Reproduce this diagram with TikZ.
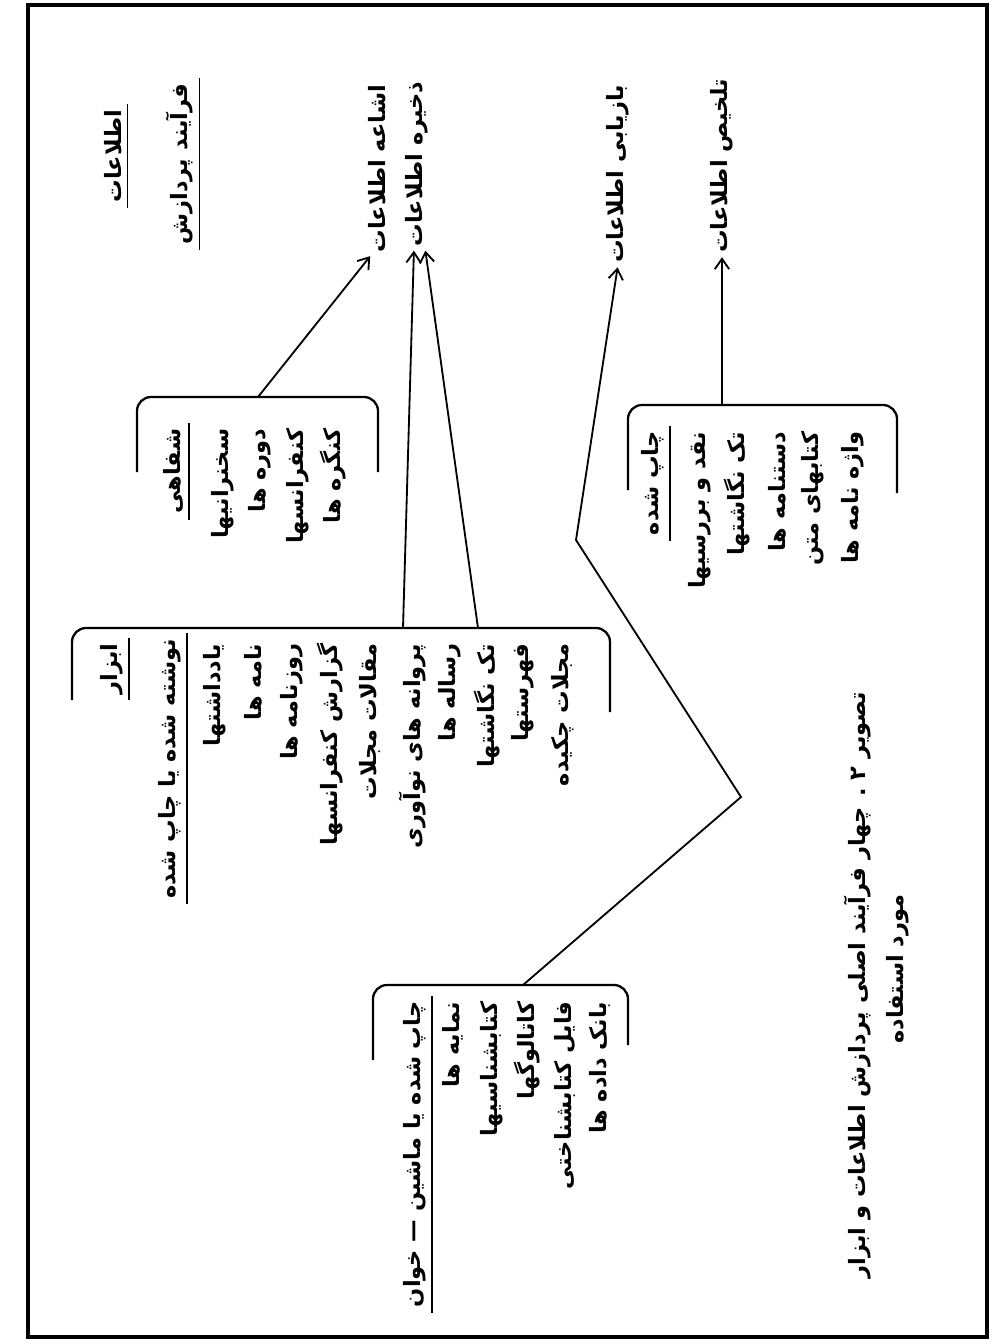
\documentclass[tikz,border=0pt]{standalone}
\usepackage{fontspec}
\newfontfamily\fafont[Script=Arabic]{DejaVu Sans}
\TeXXeTstate=1
\usetikzlibrary{arrows.meta,calc}
\newcommand{\fatext}[1]{\beginR #1\endR}
\tikzset{
  fa/.style={rotate=90, anchor=east, inner xsep=1pt, inner ysep=4pt, font=\fafont\bfseries\fontsize{16}{19}\selectfont},
  uline/.style={line width=1.1pt, shorten <=-3pt, shorten >=-3pt},
  bracket/.style={line width=1.6pt, rounded corners=0.35cm},
  arr/.style={line width=1.3pt, -{Straight Barb[length=2.6mm,width=3.6mm]}, shorten >=2pt}
}

\begin{document}
\begin{tikzpicture}[x=0.025cm, y=-0.025cm]
        \useasboundingbox (0,0) rectangle (1001,1344);
        % Draw frame
        \draw[line width=2.2pt] (28,5) rectangle (987,1337);
        % Process labels
        \node[fa] (info) at (113,108) {\fatext{اطلاعات}};
        \node[fa] (process) at (180,82) {\fatext{فرآیند پردازش}};
        \draw[uline] (info.south east) -- (info.south west);
        \draw[uline] (process.south east) -- (process.south west);
        \node[fa] (dissem) at (377,83) {\fatext{اشاعه اطلاعات}};
        \node[fa] (store) at (417,80) {\fatext{ذخیره اطلاعات}};
        \node[fa] (retrieve) at (618,83) {\fatext{بازیابی اطلاعات}};
        \node[fa] (summar) at (722,77) {\fatext{تلخیص اطلاعات}};
        % Oral tools
        \draw[bracket] (137,472) -- (137,397) -- (378,397) -- (378,472);
        \node[fa] (oralhead) at (173,427) {\fatext{شفاهی}};
        \draw[uline] (oralhead.south east) -- (oralhead.south west);
        \node[fa] (oral1) at (223,427) {\fatext{سخنرانیها}};
        \node[fa] (oral2) at (260,427) {\fatext{دوره ها}};
        \node[fa] (oral3) at (298,427) {\fatext{کنفرانسها}};
        \node[fa] (oral4) at (333,427) {\fatext{کنگره ها}};
        % Written or printed tools
        \draw[bracket] (72,700) -- (72,628) -- (610,628) -- (610,712);
        \node[fa] (toolhead) at (112,642) {\fatext{ابزار}};
        \node[fa] (writhead) at (170,637) {\fatext{نوشته شده یا چاپ شده}};
        \draw[uline] (toolhead.south east) -- (toolhead.south west);
        \draw[uline] (writhead.south east) -- (writhead.south west);
        \node[fa] (writ1) at (215,642) {\fatext{یادداشتها}};
        \node[fa] (writ2) at (253,642) {\fatext{نامه ها}};
        \node[fa] (writ3) at (292,642) {\fatext{روزنامه ها}};
        \node[fa] (writ4) at (330,642) {\fatext{گزارش کنفرانسها}};
        \node[fa] (writ5) at (370,642) {\fatext{مقالات مجلات}};
        \node[fa] (writ6) at (412,642) {\fatext{پروانه های نوآوری}};
        \node[fa] (writ7) at (450,642) {\fatext{رساله ها}};
        \node[fa] (writ8) at (487,642) {\fatext{تک نگاشتها}};
        \node[fa] (writ9) at (523,642) {\fatext{فهرستها}};
        \node[fa] (writ10) at (563,642) {\fatext{مجلات چکیده}};
        % Printed tools
        \draw[bracket] (628,490) -- (628,405) -- (897,405) -- (897,493);
        \node[fa] (printhead) at (653,430) {\fatext{چاپ شده}};
        \draw[uline] (printhead.south east) -- (printhead.south west);
        \node[fa] (print1) at (700,430) {\fatext{نقد و بررسیها}};
        \node[fa] (print2) at (737,430) {\fatext{تک نگاشتها}};
        \node[fa] (print3) at (777,430) {\fatext{دستنامه ها}};
        \node[fa] (print4) at (813,430) {\fatext{کتابهای متن}};
        \node[fa] (print5) at (853,430) {\fatext{واژه نامه ها}};
        % Printed or machine-readable tools
        \draw[bracket] (373,1060) -- (373,985) -- (628,985) -- (628,1045);
        \node[fa] (machhead) at (415,1000) {\fatext{چاپ شده یا ماشین — خوان}};
        \draw[uline] (machhead.south east) -- (machhead.south west);
        \node[fa] (mach1) at (453,1000) {\fatext{نمایه ها}};
        \node[fa] (mach2) at (492,1000) {\fatext{کتابشناسیها}};
        \node[fa] (mach3) at (527,1000) {\fatext{کاتالوگها}};
        \node[fa] (mach4) at (565,1000) {\fatext{فایل کتابشناختی}};
        \node[fa] (mach5) at (600,1000) {\fatext{بانک داده ها}};
        % Connectors
        \coordinate (oraltop) at (258,397);
        \coordinate (writA) at (403,628);
        \coordinate (writB) at (478,628);
        \coordinate (printtop) at (722,405);
        \coordinate (machtop) at (523,985);
        \coordinate (bendlow) at (741,797);
        \coordinate (bendhigh) at (576,540);
        \draw[arr] (oraltop) -- ($(dissem.west)+(-5,0)$);
        \draw[arr] (writA) -- ($(store.west)+(-3,0)$);
        \draw[arr] (writB) -- ($(store.west)+(8,0)$);
        \draw[arr] (machtop) -- (bendlow) -- (bendhigh) -- (retrieve.west);
        \draw[arr] (printtop) -- (summar.west);
        % Caption
        \node[fa] (cap1) at (858,690) {\fatext{تصویر ۲ . چهار فرآیند اصلی پردازش اطلاعات و ابزار}};
        \node[fa] (cap2) at (898,893) {\fatext{مورد استفاده}};
    \end{tikzpicture}
\end{document}
